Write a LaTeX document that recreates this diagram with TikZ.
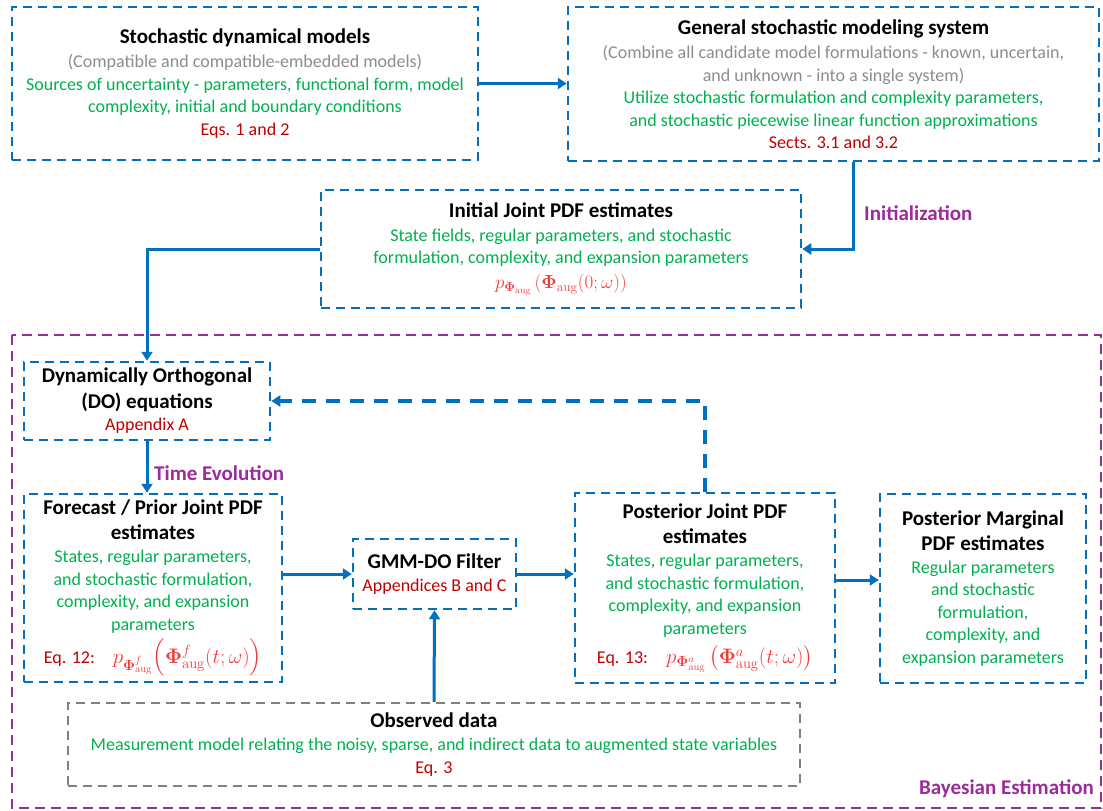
\RequirePackage{fix-cm}
\documentclass[tikz,border=0pt]{standalone}
\usepackage[no-math]{fontspec}
\setmainfont{Carlito}
\usepackage{amsmath,bm}
\usetikzlibrary{arrows.meta}
\definecolor{boxblue}{HTML}{0070C0}
\definecolor{txtgreen}{HTML}{00B050}
\definecolor{eqred}{HTML}{C00000}
\definecolor{mathred}{HTML}{F03C3C}
\definecolor{labpurple}{HTML}{9B2A9B}
\definecolor{txtgray}{HTML}{8C8C8C}
\newcommand{\boxtitle}[1]{{\fontsize{21}{26}\selectfont\bfseries #1}}
\newcommand{\graytxt}[1]{\textcolor{txtgray}{#1}}
\newcommand{\greentxt}[1]{\textcolor{txtgreen}{#1}}
\newcommand{\eqtxt}[1]{\textcolor{eqred}{#1}}
\newcommand{\pdftxt}[2][19]{\textcolor{mathred}{\fontsize{#1}{23}\selectfont$#2$}}
\tikzset{
	bluebox/.style={draw=boxblue, line width=2.5pt, dash pattern=on 9pt off 6pt, align=center, inner sep=0pt, font=\fontsize{18}{22.5}\selectfont},
	graybox/.style={bluebox, draw=black!50},
	regionbox/.style={draw=labpurple, line width=2.5pt, dash pattern=on 10pt off 6pt},
	flowlabel/.style={text=labpurple, font=\fontsize{21}{24}\selectfont\bfseries, inner sep=0pt},
	arr/.style={draw=boxblue, line width=3pt, -{Triangle[length=9pt,width=11pt]}},
	backarr/.style={arr, line width=4pt, dash pattern=on 14pt off 10pt}
}

\begin{document}
\begin{tikzpicture}[x=1pt, y=-1pt]
			%%%%% START %%%%%
			\useasboundingbox (0,0) rectangle (1103,811);
			
			\draw[regionbox] (12,335) rectangle (1101,808);
			\node[flowlabel, anchor=east] (bayes) at (1094,789) {Bayesian Estimation};
			
			\node[bluebox, minimum width=466, minimum height=153] (stoch) at (245,83.5) {\boxtitle{Stochastic dynamical models}\\[2pt]
				\graytxt{(Compatible and compatible-embedded models)}\\
				\greentxt{Sources of uncertainty - parameters, functional form, model}\\
				\greentxt{complexity, initial and  boundary conditions}\\
				\eqtxt{Eqs. 1 and 2}};
			
			\node[bluebox, minimum width=531, minimum height=154] (gen) at (833.5,84) {\boxtitle{General stochastic modeling system}\\[2pt]
				\graytxt{(Combine all candidate model formulations - known, uncertain,}\\
				\graytxt{and unknown - into a single system)}\\
				\greentxt{Utilize stochastic formulation and complexity parameters,}\\
				\greentxt{and stochastic piecewise linear function approximations}\\
				\eqtxt{Sects. 3.1 and 3.2}};
			
			\node[bluebox, minimum width=480, minimum height=118] (init) at (561,249) {\boxtitle{Initial Joint PDF estimates}\\[1pt]
				\greentxt{State fields, regular parameters, and stochastic}\\
				\greentxt{formulation, complexity, and expansion parameters}\\[2pt]
				\pdftxt{p_{\bm{\Phi}_{\mathrm{aug}}}\left(\bm{\Phi}_{\mathrm{aug}}(0;\omega)\right)}};
			
			\node[bluebox, minimum width=246, minimum height=78] (dyn) at (147,401) {\boxtitle{Dynamically Orthogonal}\\[3pt]
				\boxtitle{(DO) equations}\\
				\eqtxt{Appendix A}};
			
			\node[bluebox, minimum width=258, minimum height=188] (fcst) at (153,588) {\boxtitle{Forecast / Prior Joint PDF}\\[2.5pt]
				\boxtitle{estimates}\\[1pt]
				\greentxt{States, regular parameters,}\\
				\greentxt{and stochastic formulation,}\\
				\greentxt{complexity, and expansion}\\
				\greentxt{parameters}\\[5pt]
				\eqtxt{Eq. 12:}\quad\pdftxt[21]{p_{\bm{\Phi}^f_{\mathrm{aug}}}\Bigl(\bm{\Phi}^f_{\mathrm{aug}}(t;\omega)\Bigr)}};
			
			\node[bluebox, minimum width=163, minimum height=70] (gmm) at (434.5,574) {\boxtitle{GMM-DO Filter}\\
				\eqtxt{Appendices B and C}};
			
			\node[bluebox, minimum width=260, minimum height=190] (post) at (705,588) {\boxtitle{Posterior Joint PDF}\\[2.5pt]
				\boxtitle{estimates}\\[1pt]
				\greentxt{States, regular parameters,}\\
				\greentxt{and stochastic formulation,}\\
				\greentxt{complexity, and expansion}\\
				\greentxt{parameters}\\[7pt]
				\eqtxt{Eq. 13:}\quad\pdftxt[21]{p_{\bm{\Phi}^a_{\mathrm{aug}}}\left(\bm{\Phi}^a_{\mathrm{aug}}(t;\omega)\right)}};
			
			\node[bluebox, minimum width=206, minimum height=189] (marg) at (983,588.5) {\boxtitle{Posterior Marginal}\\[2.5pt]
				\boxtitle{PDF estimates}\\
				\greentxt{Regular parameters}\\
				\greentxt{and stochastic}\\
				\greentxt{formulation,}\\
				\greentxt{complexity, and}\\
				\greentxt{expansion parameters}};
			
			\node[graybox, minimum width=732, minimum height=83] (obs) at (434,744.5) {\boxtitle{Observed data}\\[1pt]
				\greentxt{Measurement model relating the noisy, sparse, and indirect data to augmented state variables}\\
				\eqtxt{Eq. 3}};
			
			\node[flowlabel, anchor=west] (initlab) at (864,213) {Initialization};
			\node[flowlabel, anchor=west] (timelab) at (154,473) {Time Evolution};
			
			\draw[arr] (stoch.east) -- (stoch.east -| gen.west);
			\draw[arr] ([xshift=19.5pt]gen.south) |- (init.east);
			\draw[arr] (init.west) -| (dyn.north);
			\draw[arr] (dyn.south) -- (dyn.south |- fcst.north);
			\draw[arr] (fcst.east |- gmm.west) -- (gmm.west);
			\draw[arr] (gmm.east) -- (gmm.east -| post.west);
			\draw[arr] ([yshift=8pt]post.east) -- ([yshift=8pt]post.east -| marg.west);
			\draw[arr] (obs.north) -- (gmm.south);
			\draw[backarr] (post.north) |- (dyn.east);
			
			%%%%% END %%%%%
\end{tikzpicture}
\end{document}
